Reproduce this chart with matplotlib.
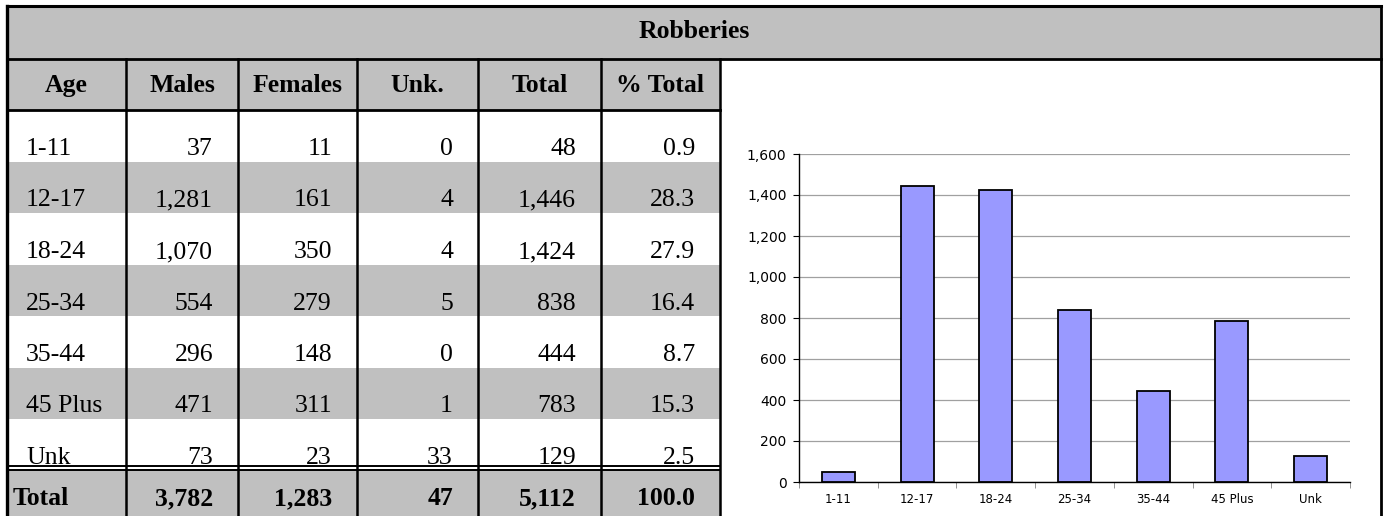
import matplotlib
matplotlib.use('Agg')
import matplotlib.pyplot as plt
from matplotlib.patches import Rectangle
from matplotlib.ticker import FuncFormatter, FixedLocator

#### DATA
title = 'Robberies'
headers = ['Age', 'Males', 'Females', 'Unk.', 'Total', '% Total']
ages = ['1-11', '12-17', '18-24', '25-34', '35-44', '45 Plus', 'Unk']
males = [37, 1281, 1070, 554, 296, 471, 73]
females = [11, 161, 350, 279, 148, 311, 23]
unknown = [0, 4, 4, 5, 0, 1, 33]
totals = [48, 1446, 1424, 838, 444, 783, 129]
pct_total = [0.9, 28.3, 27.9, 16.4, 8.7, 15.3, 2.5]
total_row = ['Total', '3,782', '1,283', '47', '5,112', '100.0']

#### LAYOUT (pixels)
W, H = 1386, 516
col_edges = [7, 126, 238, 357, 478, 601, 720]
right_edge = 1381
top_edge = 6
title_bottom = 59
header_bottom = 110
row_h = 51.5
dbl_top, dbl_bot = 466, 470
gray = '#C0C0C0'
serif = 'Liberation Serif'
fs = 18.5

fig = plt.figure(figsize=(W / 100, H / 100), dpi=100)
tab = fig.add_axes([0, 0, 1, 1])
tab.set_xlim(0, W)
tab.set_ylim(H, 0)
tab.axis('off')

# title band + header band
tab.add_patch(Rectangle((col_edges[0], top_edge), right_edge - col_edges[0], title_bottom - top_edge,
                        facecolor=gray, edgecolor='none'))
tab.add_patch(Rectangle((col_edges[0], title_bottom), col_edges[-1] - col_edges[0], header_bottom - title_bottom,
                        facecolor=gray, edgecolor='none'))
tab.text((col_edges[0] + right_edge) / 2, 38, title, family=serif,
         fontsize=fs, fontweight='bold', ha='center', va='baseline')
for i, h in enumerate(headers):
    tab.text((col_edges[i] + col_edges[i + 1]) / 2, 92, h, family=serif, fontsize=fs,
             fontweight='bold', ha='center', va='baseline')

# data rows
for r in range(len(ages)):
    y0 = header_bottom + r * row_h
    if r % 2 == 1:
        tab.add_patch(Rectangle((col_edges[0], y0), col_edges[-1] - col_edges[0], row_h,
                                facecolor=gray, edgecolor='none'))
    base = y0 + 45
    vals = ['{:,}'.format(males[r]), '{:,}'.format(females[r]), '{:,}'.format(unknown[r]),
            '{:,}'.format(totals[r]), '{:.1f}'.format(pct_total[r])]
    tab.text(col_edges[0] + 19, base, ages[r], family=serif, fontsize=fs, ha='left', va='baseline')
    for c, v in enumerate(vals):
        tab.text(col_edges[c + 2] - 25, base, v, family=serif, fontsize=fs, ha='right', va='baseline')

# total row
tab.add_patch(Rectangle((col_edges[0], dbl_bot), col_edges[-1] - col_edges[0], H - dbl_bot,
                        facecolor=gray, edgecolor='none'))
tab.text(col_edges[0] + 6, 505, total_row[0], family=serif, fontsize=fs, fontweight='bold',
         ha='left', va='baseline')
for c, v in enumerate(total_row[1:]):
    tab.text(col_edges[c + 2] - 25, 505, v, family=serif, fontsize=fs, fontweight='bold',
             ha='right', va='baseline')

# lines
tab.plot([col_edges[0], right_edge], [top_edge, top_edge], color='black', lw=2.2)
tab.plot([col_edges[0], right_edge], [title_bottom, title_bottom], color='black', lw=2.0)
tab.plot([col_edges[0], col_edges[-1]], [header_bottom, header_bottom], color='black', lw=2.0)
tab.plot([col_edges[0], col_edges[-1]], [dbl_top, dbl_top], color='black', lw=1.4)
tab.plot([col_edges[0], col_edges[-1]], [dbl_bot, dbl_bot], color='black', lw=1.4)
tab.plot([col_edges[0], col_edges[0]], [top_edge, H], color='black', lw=2.4)
tab.plot([right_edge, right_edge], [top_edge, H], color='black', lw=2.0)
for x in col_edges[1:]:
    tab.plot([x, x], [title_bottom, H], color='black', lw=1.8)

#### CHART
ax_l, ax_r, ax_t, ax_b = 799, 1350, 154, 482
ax = fig.add_axes([ax_l / W, 1 - ax_b / H, (ax_r - ax_l) / W, (ax_b - ax_t) / H])
x = list(range(len(ages)))
ax.bar(x, totals, width=0.42, color='#9999FF', edgecolor='black', linewidth=1.3, zorder=3)
ax.set_xlim(-0.5, len(ages) - 0.5)
ax.set_ylim(0, 1600)
ax.set_yticks(range(0, 1601, 200))
ax.yaxis.set_major_formatter(FuncFormatter(lambda v, p: '{:,}'.format(int(v))))
ax.grid(axis='y', color='#A0A0A0', linewidth=0.9, zorder=0)
ax.set_xticks(x)
ax.set_xticklabels(ages, family='DejaVu Sans', fontsize=8.5)
ax.xaxis.set_minor_locator(FixedLocator([i - 0.5 for i in range(len(ages) + 1)]))
ax.tick_params(axis='x', which='major', length=0, pad=8)
ax.tick_params(axis='x', which='minor', length=4, color='#808080', direction='out')
ax.tick_params(axis='y', length=4, pad=5, labelsize=10)
for lab in ax.get_yticklabels():
    lab.set_family('DejaVu Sans')
for s in ['top', 'right']:
    ax.spines[s].set_visible(False)
ax.spines['left'].set_linewidth(1.0)
ax.spines['bottom'].set_linewidth(1.0)
ax.set_facecolor('none')

fig.savefig('out.png', dpi=100)
